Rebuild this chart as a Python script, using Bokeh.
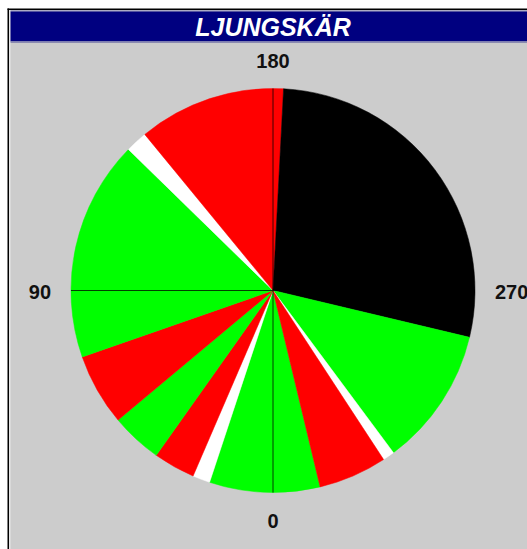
import numpy as np
from bokeh.plotting import figure
from bokeh.models import Range1d, BoxAnnotation, ColumnDataSource
from bokeh.core.properties import value
from bokeh.embed import file_html
from bokeh.resources import INLINE

# ---- data (compass degrees, clockwise from bottom: 0 bottom, 90 left, 180 top, 270 right)
title_text = "LJUNGSKÄR"
sector_start = [346.5, 0.0, 18.3, 23.3, 35.3, 50.1, 70.8, 134.3, 140.6, 183.0, 283.4, 323.4, 326.8]
sector_end   = [360.0, 18.3, 23.3, 35.3, 50.1, 70.8, 134.3, 140.6, 183.0, 283.4, 323.4, 326.8, 346.5]
sector_color = ["#00FF00", "#00FF00", "#FFFFFF", "#FF0000", "#00FF00", "#FF0000", "#00FF00",
                "#FFFFFF", "#FF0000", "#000000", "#00FF00", "#FFFFFF", "#FF0000"]
tick_angles = [0, 90, 180, 270]
tick_labels = ["0", "90", "180", "270"]

W, H = 527, 549
CX, CY = 272.5, 290.0   # screen px
R = 202.0

def sy(y):
    return H - y

p = figure(width=W, height=H, output_backend="svg", toolbar_location=None,
           x_range=Range1d(0, W), y_range=Range1d(0, H), min_border=0)
p.axis.visible = False
p.grid.visible = False
p.outline_line_color = None
p.background_fill_color = "white"
p.border_fill_color = "white"

def box(l, r, b, t, c):
    p.add_layout(BoxAnnotation(left=l, right=r, bottom=b, top=t, fill_color=c, fill_alpha=1,
                               line_color=None, level="underlay"))

# frame decoration
box(7, W, sy(9.5), sy(8), "black")
box(7, 8.5, 0, sy(8), "black")
box(8.5, W, 0, sy(9.5), "#E6E6E6")
box(10, W, sy(11), sy(10), "#7070A0")
box(10, W, sy(41), sy(11), "#000080")
box(10, W, sy(42.5), sy(41), "#8A8AB0")
box(10, W, 0, sy(42.5), "#CCCCCC")

p.text(x=[CX], y=[sy(26.5)], text=[title_text], text_color="white",
       text_font=value("Liberation Sans"), text_font_style="bold italic",
       text_font_size="25px", text_align="center", text_baseline="middle")

# pie: convert compass angle th to bokeh angle phi = 270 - th
starts = [270.0 - e for e in sector_end]
ends = [270.0 - s for s in sector_start]
p.wedge(x=CX, y=sy(CY), radius=R, start_angle=starts, end_angle=ends,
        start_angle_units="deg", end_angle_units="deg", direction="anticlock",
        fill_color=sector_color, line_color=sector_color, line_width=0.5)

# crosshair
p.segment(x0=[CX - R, CX], y0=[sy(CY), sy(CY) - R], x1=[CX + R, CX], y1=[sy(CY), sy(CY) + R],
          line_color="black", line_width=1, line_alpha=0.75)

th = np.radians(tick_angles)
s, c = np.sin(th), np.cos(th)
side = np.abs(s) > 0.5
lr = np.where(side, 222.0, 230.0)
lx = CX - lr * s
ly = sy(CY) - lr * c + np.where(side, -1.5, 0.0)
align = ["right" if v > 0.5 else ("left" if v < -0.5 else "center") for v in s]
src = ColumnDataSource(dict(x=lx, y=ly, text=tick_labels, align=align))
p.text(x="x", y="y", text="text", text_align="align", source=src, text_color="#111111",
       text_font=value("Liberation Sans"), text_font_style="bold",
       text_font_size="20px", text_baseline="middle")

open("out.html", "w").write(file_html(p, INLINE))
